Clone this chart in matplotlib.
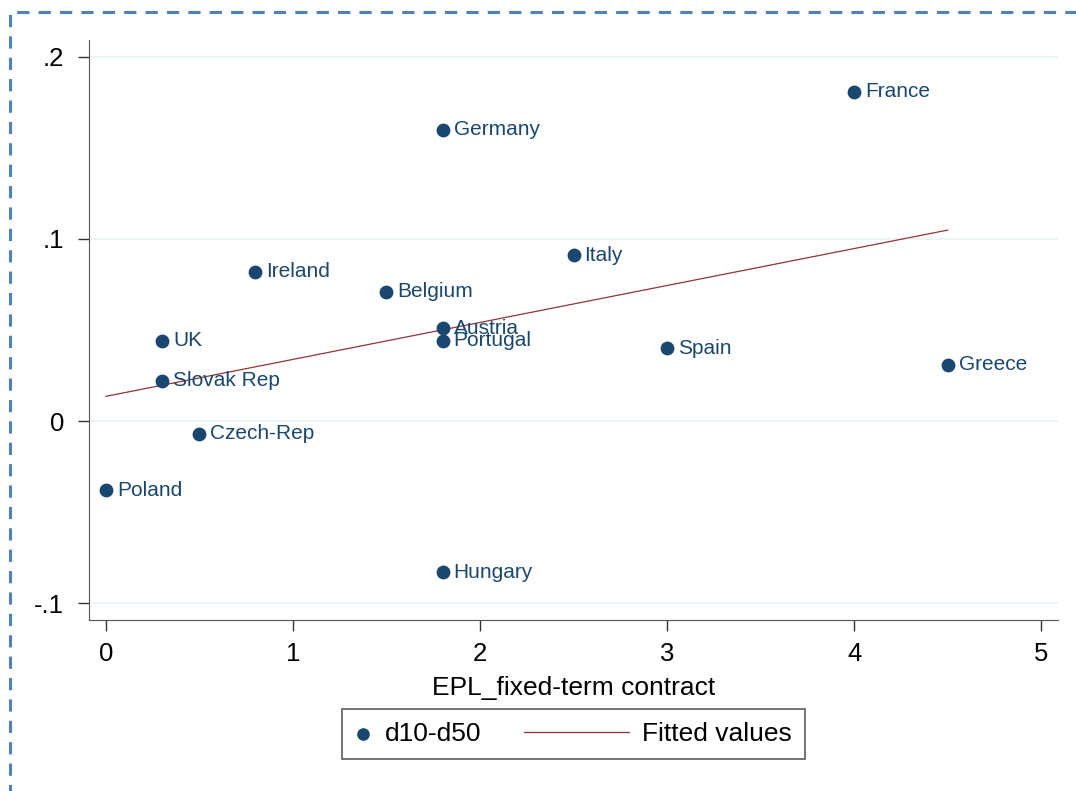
import numpy as np
import matplotlib
matplotlib.use("Agg")
from matplotlib import pyplot as plt
from matplotlib.patches import Rectangle
from matplotlib.legend_handler import HandlerLine2D

plt.rcParams['font.family'] = ['Liberation Sans', 'DejaVu Sans']

countries = ['France', 'Germany', 'Italy', 'Ireland', 'Belgium', 'Austria', 'Portugal',
             'UK', 'Spain', 'Greece', 'Slovak Rep', 'Czech-Rep', 'Poland', 'Hungary']
epl = [4.0, 1.8, 2.5, 0.8, 1.5, 1.8, 1.8, 0.3, 3.0, 4.5, 0.3, 0.5, 0.0, 1.8]
d10_d50 = [0.181, 0.160, 0.091, 0.082, 0.071, 0.051, 0.044,
           0.044, 0.040, 0.031, 0.022, -0.007, -0.038, -0.083]

navy = '#1a476f'
maroon = '#90353b'


# legend line handle drawn longer, reaching back into the column gap
class LongLine(HandlerLine2D):
    def create_artists(self, legend, orig_handle, xdescent, ydescent, width,
                       height, fontsize, trans):
        ext = 3.37 * fontsize
        return super().create_artists(legend, orig_handle, xdescent + ext, ydescent,
                                      width + ext, height, fontsize, trans)


fig = plt.figure(figsize=(10.76, 7.91), dpi=100)
W, H = 1076, 791
ax = fig.add_axes([89 / W, 1 - 620 / H, (1058 - 89) / W, (620 - 40) / H])

pts = ax.scatter(epl, d10_d50, s=80, color=navy, zorder=3, label='d10-d50')
for name, x, y in zip(countries, epl, d10_d50):
    ax.annotate(name, (x, y), xytext=(8, 0), textcoords='offset points',
                va='center', ha='left', fontsize=15, color=navy, zorder=4)

slope, intercept = np.polyfit(epl, d10_d50, 1)
xs = np.array([min(epl), max(epl)])
fit, = ax.plot(xs, intercept + slope * xs, color=maroon, lw=0.9, zorder=2,
               label='Fitted values')

ax.set_xlim(-0.09, 5.09)
ax.set_ylim(-0.1093, 0.2093)
ax.set_xticks([0, 1, 2, 3, 4, 5])
ax.set_yticks([-0.1, 0, 0.1, 0.2])
ax.set_yticklabels(['-.1', '0', '.1', '.2'])
ax.yaxis.grid(True, color='#eaf2f3', lw=1.2)
ax.set_axisbelow(True)
for s in ['top', 'right']:
    ax.spines[s].set_visible(False)
for s in ['left', 'bottom']:
    ax.spines[s].set_color('#555555')
ax.tick_params(axis='both', direction='out', length=8, width=1, color='#333333',
               labelsize=18.5)
ax.tick_params(axis='x', pad=8)
ax.tick_params(axis='y', pad=10)
ax.set_xlabel('EPL_fixed-term contract', fontsize=19, labelpad=7)

leg = ax.legend([pts, fit], ['d10-d50', 'Fitted values'],
                handler_map={fit: LongLine()},
                loc='upper center', bbox_to_anchor=(0.5, -0.13), ncol=2,
                fontsize=19, frameon=True, fancybox=False, edgecolor='#333333',
                handlelength=0.6, handletextpad=0.5, columnspacing=5.0,
                borderpad=0.5, scatterpoints=1, markerscale=0.9)
leg.get_frame().set_linewidth(1.2)

fig.patches.append(Rectangle((10 / W, -0.05), 1.1, 1 - 12 / H + 0.05,
                             transform=fig.transFigure, fill=False,
                             edgecolor='#4f81bd', lw=2.2, linestyle=(0, (4, 3)),
                             clip_on=False))

fig.savefig('out.png', dpi=100)
